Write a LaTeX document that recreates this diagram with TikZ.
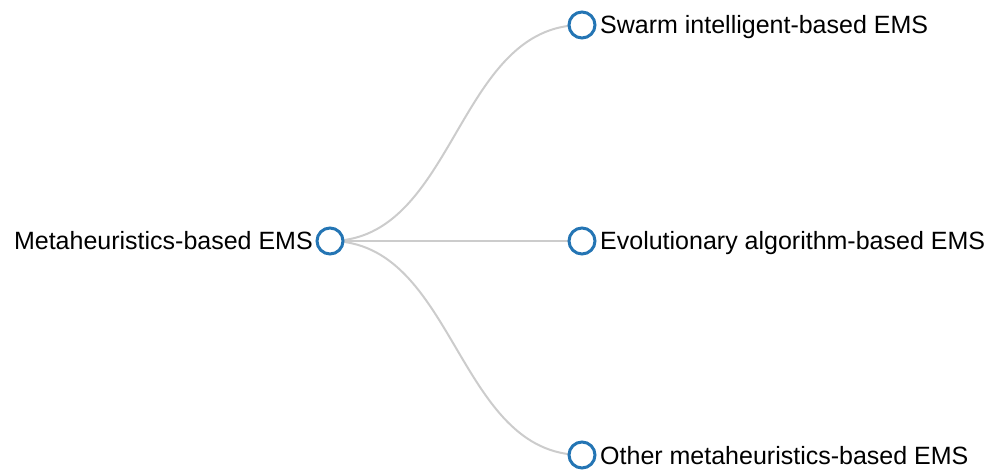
\documentclass[tikz,border=0pt]{standalone}
\usepackage{fontspec}
\setmainfont{Liberation Sans}
\definecolor{nodeblue}{RGB}{36,117,180}
\definecolor{linkgray}{RGB}{204,204,204}
\begin{document}
\begin{tikzpicture}[x=1pt,y=-1pt,
  treenode/.style={circle,draw=nodeblue,fill=white,line width=3pt,minimum size=26pt,inner sep=0pt},
  treelink/.style={draw=linkgray,line width=2pt},
  leftlabel/.style={anchor=base east,inner sep=0pt,font=\fontsize{25}{30}\selectfont},
  rightlabel/.style={anchor=base west,inner sep=0pt,font=\fontsize{25}{30}\selectfont}]
\useasboundingbox (0,0) rectangle (991,470);
% tree node centres
\coordinate (r) at (330,241);
\coordinate (c1) at (582,25);
\coordinate (c2) at (582,241);
\coordinate (c3) at (582,455);
% horizontal links, control points at mid x
\path[treelink] (r) .. controls (456,241) and (456,25) .. (c1);
\path[treelink] (r) -- (c2);
\path[treelink] (r) .. controls (456,241) and (456,455) .. (c3);
% circles
\node[treenode] (root) at (r) {};
\node[treenode] (n1) at (c1) {};
\node[treenode] (n2) at (c2) {};
\node[treenode] (n3) at (c3) {};
% labels
\node[leftlabel] (lroot) at (313,250) {Metaheuristics-based EMS};
\node[rightlabel] (l1) at (600,34) {Swarm intelligent-based EMS};
\node[rightlabel] (l2) at (600,250) {Evolutionary algorithm-based EMS};
\node[rightlabel] (l3) at (600,464) {Other metaheuristics-based EMS};
\end{tikzpicture}
\end{document}
